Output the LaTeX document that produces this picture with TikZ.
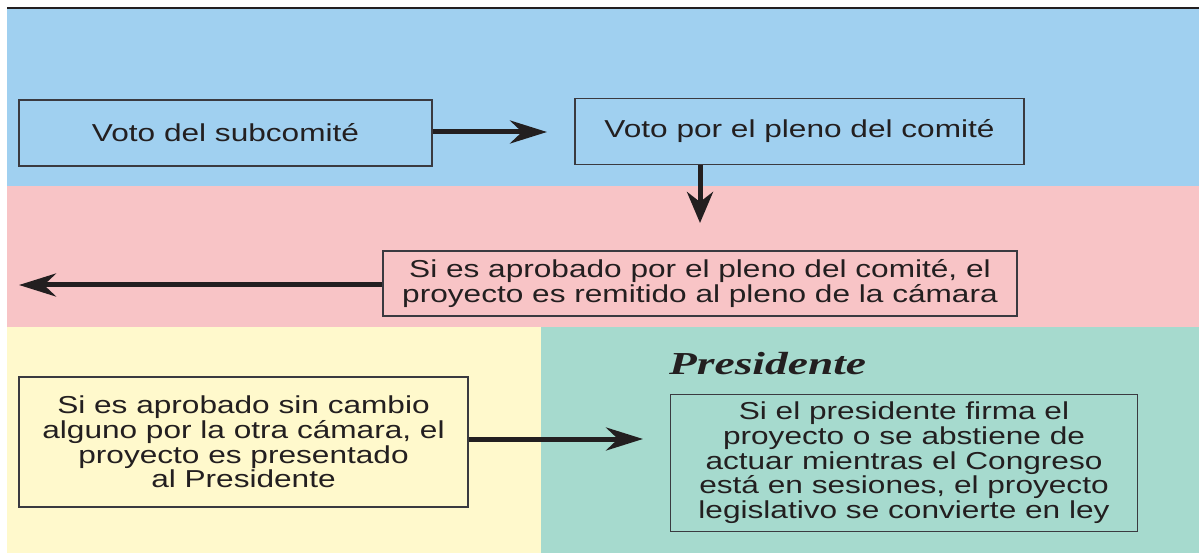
\documentclass[tikz,border=0pt]{standalone}
\usepackage{fontspec}
\usetikzlibrary{arrows.meta}
\newfontfamily\boxfont[FakeStretch=1.29]{Liberation Sans}
\newfontfamily\presfont[FakeStretch=1.42]{Liberation Serif}
\definecolor{bgblue}{HTML}{A0D0F0}
\definecolor{bgpink}{HTML}{F8C4C6}
\definecolor{bgyellow}{HTML}{FFF9CC}
\definecolor{bggreen}{HTML}{A6DACE}
\definecolor{ink}{HTML}{231F20}
\definecolor{boxline}{HTML}{3A3A40}
\tikzset{
  stepbox/.style={draw=boxline, line width=1.3pt, text=ink, align=center,
    inner sep=0pt, font=\boxfont\fontsize{24.5}{24.8}\selectfont},
  arr/.style={draw=ink, line width=5pt,
    -{Stealth[length=37pt, width=23pt, inset=12pt]}},
}
\begin{document}
\begin{tikzpicture}[x=1pt,y=-1pt]
\useasboundingbox (0,0) rectangle (1199,553);
% background bands
\fill[white] (0,0) rectangle (1199,553);
\fill[bgblue] (7,9) rectangle (1199,186);
\fill[bgpink] (7,186) rectangle (1199,327);
\fill[bgyellow] (7,327) rectangle (541,553);
\fill[bggreen] (541,327) rectangle (1199,553);
\draw[ink, line width=2pt] (7,8.3) -- (1199,8.3);
% boxes
\node[stepbox, minimum width=413pt, minimum height=66pt] (b1) at (225.5,133) {Voto del subcomité};
\node[stepbox, minimum width=449pt, minimum height=66pt] (b2) at (799.5,131.3) {Voto por el pleno del comité};
\node[stepbox, minimum width=634pt, minimum height=65pt] (b3) at (700,283.5)
  {Si es aprobado por el pleno del comité, el\\proyecto es remitido al pleno de la cámara};
\node[stepbox, minimum width=449pt, minimum height=130pt] (b4) at (243.5,442)
  {Si es aprobado sin cambio\\alguno por la otra cámara, el\\proyecto es presentado\\al Presidente};
\node[stepbox, minimum width=467pt, minimum height=137pt] (b5) at (904,462.7)
  {Si el presidente firma el\\proyecto o se abstiene de\\actuar mientras el Congreso\\está en sesiones, el proyecto\\legislativo se convierte en ley};
\node[anchor=base west, inner sep=0pt, text=ink, font=\presfont\bfseries\itshape\fontsize{32}{34}\selectfont] (pres) at (669,374) {Presidente};
% connectors
\coordinate (t1) at (547,132);
\coordinate (t2) at (700,223);
\coordinate (t3) at (19,285);
\coordinate (t4) at (643,439);
\draw[arr] (b1.east |- t1) -- (t1);
\draw[arr, -{Stealth[length=31pt, width=26pt, inset=10pt]}] (b2.south -| t2) -- (t2);
\draw[arr] (b3.west |- t3) -- (t3);
\draw[arr] (b4.east |- t4) -- (t4);
\end{tikzpicture}
\end{document}
